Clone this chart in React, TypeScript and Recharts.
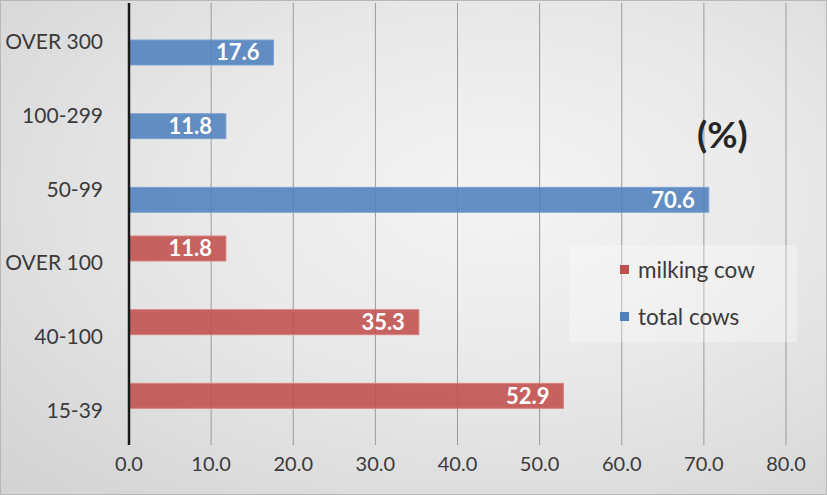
import {
  BarChart, Bar, XAxis, YAxis, CartesianGrid, LabelList,
} from "recharts";

const categories = ["OVER 300", "100-299", "50-99", "OVER 100", "40-100", "15-39"];
const milkingCow = [null, null, null, 11.8, 35.3, 52.9];
const totalCows = [17.6, 11.8, 70.6, null, null, null];
const xTicks = [0, 10, 20, 30, 40, 50, 60, 70, 80];

const FONT = "Lato, 'Noto Sans', sans-serif";
const RED = "#c0504d";
const BLUE = "#4f81bd";

const series = [
  { key: "milking", name: "milking cow", color: RED, stroke: "#d9827f" },
  { key: "total", name: "total cows", color: BLUE, stroke: "#7fa3cf" },
];

const data = categories.map((name, i) => ({
  name,
  milking: milkingCow[i],
  total: totalCows[i],
}));

const fmt = (v: any) => (v == null ? "" : Number(v).toFixed(1));

export default function App() {
  return (
    <div
      style={{
        position: "absolute",
        left: 0,
        top: 0,
        width: 827,
        height: 495,
        boxSizing: "border-box",
        border: "1px solid #b8b8b8",
        background:
          "radial-gradient(ellipse at 60% 40%, #f4f4f4 0%, #e8e8e8 45%, #d2d2d2 100%)",
      }}
    >
      <BarChart
        width={825}
        height={493}
        data={data}
        layout="vertical"
        margin={{ top: 2, right: 40, bottom: 0, left: 0 }}
        barGap={0}
        barSize={25}
      >
        <CartesianGrid horizontal={false} vertical stroke="#9a9a9a" strokeWidth={1} />
        <XAxis
          type="number"
          domain={[0, 80]}
          ticks={xTicks}
          tickFormatter={(v: number) => v.toFixed(1)}
          axisLine={false}
          tickLine={false}
          tickSize={0}
          tickMargin={12}
          height={49}
          tick={{ fill: "#3a3a3a", fontSize: 20, fontFamily: FONT }}
        />
        <YAxis
          type="category"
          dataKey="name"
          width={128}
          axisLine={{ stroke: "#1a1a1a", strokeWidth: 2.5 }}
          tickLine={false}
          tickSize={0}
          tickMargin={26}
          tick={{ fill: "#3a3a3a", fontSize: 21, fontFamily: FONT, dy: 2 }}
        />
        {series.map((s) => (
          <Bar
            key={s.key}
            dataKey={s.key}
            name={s.name}
            fill={s.color}
            fillOpacity={0.88}
            stroke={s.stroke}
            strokeWidth={1}
            isAnimationActive={false}
          >
            <LabelList
              dataKey={s.key}
              position="insideRight"
              offset={14}
              formatter={fmt}
              style={{ fill: "#ffffff", fontSize: 22, fontWeight: "bold", fontFamily: FONT }}
            />
          </Bar>
        ))}
      </BarChart>
      <div
        style={{
          position: "absolute",
          left: 568,
          top: 244,
          width: 228,
          height: 97,
          background: "rgba(255,255,255,0.3)",
          boxSizing: "border-box",
          paddingLeft: 51,
          paddingTop: 6,
          fontFamily: FONT,
          fontSize: 22.5,
          color: "#3a3a3a",
        }}
      >
        {series.map((s) => (
          <div key={s.key} style={{ display: "flex", alignItems: "center", height: 37, marginBottom: 10 }}>
            <span style={{ width: 9, height: 9, background: s.color, marginRight: 9, display: "inline-block" }} />
            {s.name}
          </div>
        ))}
      </div>
      <div
        style={{
          position: "absolute",
          left: 696,
          top: 110,
          fontFamily: FONT,
          fontWeight: "bold",
          fontSize: 37,
          color: "#262626",
        }}
      >
        (%)
      </div>
    </div>
  );
}
